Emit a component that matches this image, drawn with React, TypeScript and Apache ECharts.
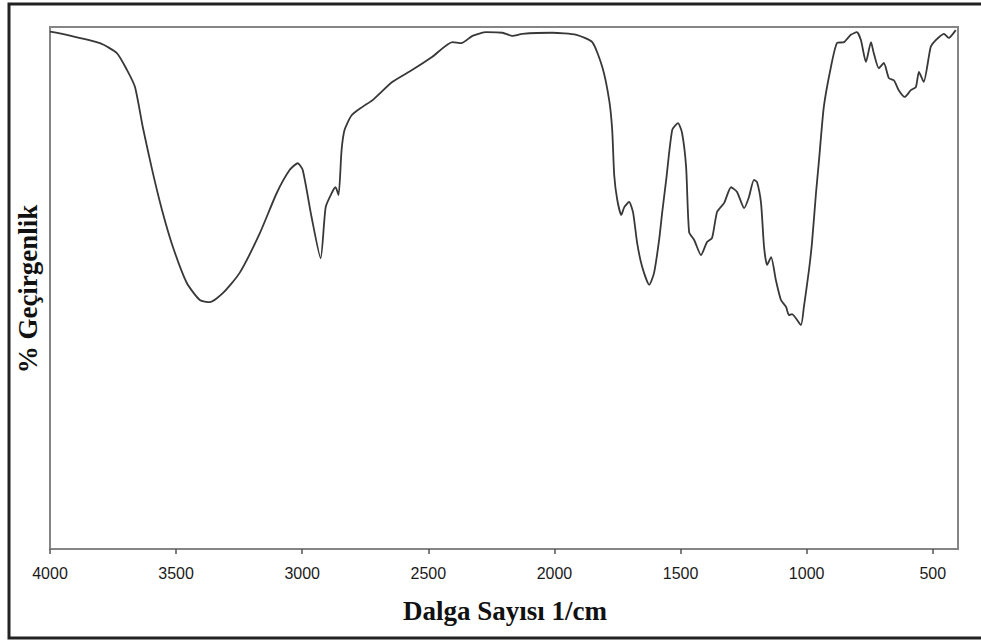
import React, { useEffect, useRef } from "react";
import * as echarts from "echarts";

// FTIR spectrum: wavenumber (1/cm) and transmittance (%)
const wavenumbers = [
  4000, 3933, 3802, 3735, 3695, 3663, 3632, 3592, 3553, 3513, 3458, 3406, 3366, 3315, 3248,
  3168, 3101, 3050, 3018, 2998, 2963, 2927, 2907, 2883, 2868, 2856, 2844, 2832, 2804, 2761,
  2721, 2642, 2563, 2484, 2404, 2369, 2325, 2270, 2206, 2167, 2127, 2008, 1913, 1850, 1810,
  1783, 1771, 1763, 1751, 1735, 1723, 1704, 1688, 1672, 1652, 1624, 1605, 1585, 1573, 1557,
  1533, 1510, 1494, 1478, 1466, 1446, 1419, 1395, 1375, 1355, 1327, 1300, 1276, 1248, 1229,
  1209, 1197, 1181, 1169, 1157, 1141, 1122, 1102, 1082, 1070, 1058, 1023, 1011, 991, 979,
  963, 951, 932, 904, 880, 852, 825, 801, 785, 765, 745, 734, 714, 694, 674,
  654, 635, 611, 587, 567, 555, 536, 508, 488, 456, 437, 409,
];
const transmittance = [
  99.1, 98.5, 96.9, 95.0, 91.8, 88.5, 80.8, 72.0, 64.4, 57.9, 51.0, 47.7, 47.3, 49.0, 52.9,
  60.5, 68.2, 72.6, 73.9, 72.6, 63.6, 55.7, 65.5, 68.2, 69.3, 67.8, 76.4, 80.3, 83.1, 84.7,
  86.0, 89.5, 91.8, 94.3, 97.1, 96.9, 98.3, 99.0, 98.9, 98.3, 98.7, 98.9, 98.5, 97.1, 92.3,
  86.0, 80.3, 71.6, 66.9, 64.0, 65.5, 66.5, 64.4, 58.6, 54.0, 50.6, 52.9, 59.2, 64.4, 70.7,
  80.3, 81.6, 79.7, 73.2, 60.7, 59.2, 56.3, 58.8, 59.6, 64.6, 66.3, 69.3, 68.4, 65.3, 67.4,
  70.7, 70.3, 66.3, 57.9, 54.4, 55.9, 51.5, 47.7, 46.4, 44.8, 45.0, 42.9, 46.4, 53.4, 58.6,
  68.2, 74.5, 84.7, 92.3, 96.9, 97.1, 98.5, 99.0, 97.5, 93.3, 97.1, 95.0, 92.1, 93.1, 90.2,
  89.8, 87.9, 86.6, 87.9, 88.5, 91.4, 89.5, 96.2, 97.5, 98.7, 97.9, 99.4,
];
const xTicks = [4000, 3500, 3000, 2500, 2000, 1500, 1000, 500];
const xTitle = "Dalga Sayısı 1/cm";
const yTitle = "% Geçirgenlik";

export default function App() {
  const ref = useRef<HTMLDivElement>(null);

  useEffect(() => {
    document.body.style.margin = "0";
    if (!ref.current) return;
    const chart = echarts.init(ref.current, null, { renderer: "svg" });
    const points = wavenumbers.map((w, i) => [w, transmittance[i]]);

    chart.setOption({
      animation: false,
      backgroundColor: "#ffffff",
      grid: {
        left: 50,
        right: 23,
        top: 27,
        bottom: 95,
        show: true,
        borderColor: "#858585",
        borderWidth: 2,
        backgroundColor: "transparent",
      },
      xAxis: {
        type: "value",
        inverse: true,
        min: 400,
        max: 4000,
        axisLine: { show: true, lineStyle: { color: "#858585", width: 2 } },
        axisTick: {
          show: true,
          inside: false,
          length: 5,
          customValues: xTicks,
          lineStyle: { color: "#555", width: 1.5 },
        },
        axisLabel: {
          customValues: xTicks,
          formatter: (v: number) => String(v),
          margin: 16,
          fontFamily: "Liberation Sans, Arial, sans-serif",
          fontSize: 16,
          color: "#1a1a1a",
        },
        splitLine: { show: false },
      },
      yAxis: {
        type: "value",
        min: 0,
        max: 100,
        axisLine: { show: false },
        axisTick: { show: false },
        axisLabel: { show: false },
        splitLine: { show: false },
      },
      series: [
        {
          type: "line",
          data: points,
          showSymbol: false,
          smooth: 0.2,
          lineStyle: { color: "#383838", width: 1.8 },
        },
      ],
      graphic: [
        {
          type: "rect",
          shape: { x: 9, y: 4, width: 1000, height: 634 },
          style: { fill: "none", stroke: "#222", lineWidth: 3 },
          silent: true,
        },
        {
          type: "text",
          x: 505,
          y: 611,
          style: {
            text: xTitle,
            font: "bold 27px 'Liberation Serif', 'Times New Roman', serif",
            fill: "#111",
            textAlign: "center",
            textVerticalAlign: "middle",
          },
        },
        {
          type: "text",
          x: 28,
          y: 289,
          rotation: Math.PI / 2,
          style: {
            text: yTitle,
            font: "bold 27px 'Liberation Serif', 'Times New Roman', serif",
            fill: "#111",
            textAlign: "center",
            textVerticalAlign: "middle",
          },
        },
      ],
    });

    return () => chart.dispose();
  }, []);

  return <div ref={ref} style={{ width: 981, height: 644 }} />;
}
